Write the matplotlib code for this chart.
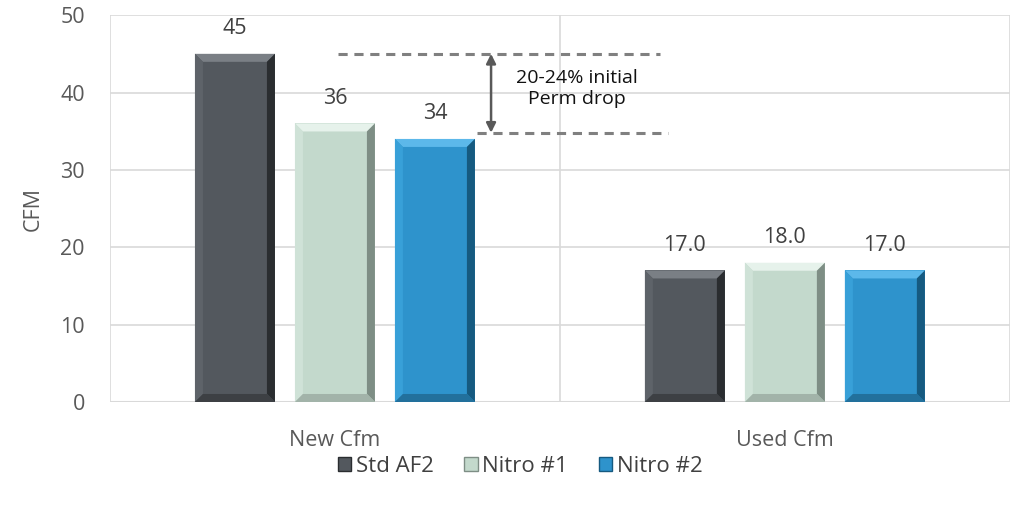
import numpy as np
import matplotlib
matplotlib.use("Agg")
import matplotlib.pyplot as plt
from matplotlib.patches import Polygon, Patch

plt.rcParams['font.family'] = ['Open Sans', 'DejaVu Sans']

categories = ['New Cfm', 'Used Cfm']
series = ['Std AF2', 'Nitro #1', 'Nitro #2']
values = {
    'Std AF2': [45, 17],
    'Nitro #1': [36, 18],
    'Nitro #2': [34, 17],
}
value_labels = {
    'Std AF2': ['45', '17.0'],
    'Nitro #1': ['36', '18.0'],
    'Nitro #2': ['34', '17.0'],
}
y_ticks = [0, 10, 20, 30, 40, 50]
note_text = '20-24% initial\nPerm drop'

# base, top, left, right, bottom shades for the bevel look
shades = {
    'Std AF2': ['#53585e', '#7a7f85', '#5e6369', '#2a2d30', '#3d4044'],
    'Nitro #1': ['#c3d9cc', '#e6f2eb', '#cfe2d7', '#7e8e85', '#a2b3a9'],
    'Nitro #2': ['#2e93cc', '#5cb8ea', '#38a0d8', '#165a80', '#22709c'],
}

fig = plt.figure(figsize=(10.18, 5.05), dpi=100)
ax = fig.add_axes([0.108, 0.204, 0.884, 0.766])
ax.set_xlim(-0.5, 1.5)
ax.set_ylim(0, 50)

x = np.arange(len(categories))
width = 80 / 450
step = 100 / 450

# bevel size in data units (about 8 px)
bx = 8 / 450
by = 8 / 387 * 50

for i, name in enumerate(series):
    xs = x + (i - 1) * step
    base, top, left, right, bottom = shades[name]
    bars = ax.bar(xs, values[name], width, color=base, zorder=3, label=name)
    for rect, lab in zip(bars, value_labels[name]):
        x0, y0 = rect.get_x(), rect.get_y()
        x1, y1 = x0 + rect.get_width(), y0 + rect.get_height()
        polys = [
            ([(x0, y1), (x1, y1), (x1 - bx, y1 - by), (x0 + bx, y1 - by)], top),
            ([(x0, y0), (x0, y1), (x0 + bx, y1 - by), (x0 + bx, y0 + by)], left),
            ([(x1, y0), (x1, y1), (x1 - bx, y1 - by), (x1 - bx, y0 + by)], right),
            ([(x0, y0), (x1, y0), (x1 - bx, y0 + by), (x0 + bx, y0 + by)], bottom),
        ]
        for pts, c in polys:
            ax.add_patch(Polygon(pts, closed=True, facecolor=c, edgecolor='none', zorder=4))
        ax.annotate(lab, (x0 + rect.get_width() / 2, y1), xytext=(0, 10.5),
                    textcoords='offset points', ha='center', va='bottom',
                    fontsize=15.5, color='#404040')

# gridlines
for t in y_ticks[1:]:
    ax.axhline(t, color='#d9d9d9', lw=1.2, zorder=1)
for b in [-0.5, 0.5, 1.5]:
    ax.axvline(b, color='#d9d9d9', lw=1.2, zorder=1)
ax.axhline(0, color='#d9d9d9', lw=1.5, zorder=2)

for s in ax.spines.values():
    s.set_visible(False)
ax.set_xticks(x)
ax.set_xticklabels(categories)
ax.set_yticks(y_ticks)
ax.tick_params(length=0, labelsize=15.5, labelcolor='#595959')
ax.tick_params(axis='x', pad=20)
ax.tick_params(axis='y', pad=18)
ax.set_ylabel('CFM', fontsize=15.5, color='#595959', labelpad=12)

# annotation for perm drop
ax.plot([0.007, 0.722], [45, 45], ls=(0, (3, 2.2)), color='#808080', lw=2.2, zorder=5)
ax.plot([0.316, 0.74], [34.8, 34.8], ls=(0, (3, 2.2)), color='#808080', lw=2.2, zorder=5)
ax.annotate('', xy=(0.347, 34.8), xytext=(0.347, 45),
            arrowprops=dict(arrowstyle='<|-|>', color='#595959', lw=1.8,
                            mutation_scale=14, shrinkA=0, shrinkB=0), zorder=6)
ax.text(0.538, 40.5, note_text, ha='center', va='center', fontsize=14,
        color='#111111', linespacing=1.2, zorder=6)

handles = [Patch(facecolor=shades[n][0], edgecolor=shades[n][3], label=n) for n in series]
fig.legend(handles=handles, loc='center', bbox_to_anchor=(0.511, 0.077), ncol=3,
           frameon=False, fontsize=16, handlelength=0.6, handleheight=0.6,
           handletextpad=0.2, columnspacing=1.4, labelcolor='#404040')

fig.savefig('out.png', dpi=100)
